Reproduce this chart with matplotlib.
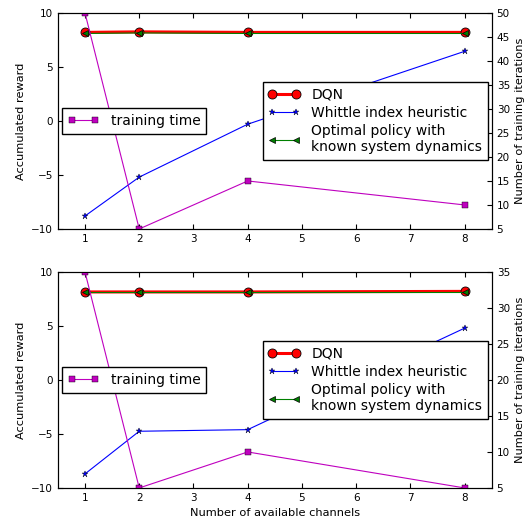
import matplotlib
matplotlib.use("Agg")
import matplotlib.pyplot as plt

channels = [1, 2, 4, 8]

# top panel
dqn_top = [8.2, 8.25, 8.2, 8.2]
whittle_top = [-8.8, -5.2, -0.3, 6.45]
optimal_top = [8.1, 8.15, 8.1, 8.1]
train_top = [50, 5, 15, 10]

# bottom panel
dqn_bot = [8.15, 8.15, 8.15, 8.2]
whittle_bot = [-8.7, -4.75, -4.6, 4.8]
optimal_bot = [8.1, 8.1, 8.1, 8.1]
train_bot = [35, 5, 10, 5]

plt.rcParams['xtick.direction'] = 'in'
plt.rcParams['ytick.direction'] = 'in'
plt.rcParams['xtick.top'] = True
plt.rcParams['xtick.labelsize'] = 7.5
plt.rcParams['ytick.labelsize'] = 7.5

fig = plt.figure(figsize=(5.26, 5.18), dpi=100)
ax_top = fig.add_axes([0.110, 0.558, 0.825, 0.417])
ax_bot = fig.add_axes([0.110, 0.058, 0.825, 0.417])


def panel(ax, dqn, whittle, optimal, train, rlim):
    l1, = ax.plot(channels, dqn, 'r-o', lw=2.2, ms=6.5, mec='k', mew=0.6,
                  label='DQN')
    l2, = ax.plot(channels, whittle, 'b-*', lw=0.8, ms=4.5, mec='k', mew=0.3,
                  label='Whittle index heuristic')
    l3, = ax.plot(channels, optimal, 'g-<', lw=0.8, ms=5, mec='k', mew=0.5,
                  label='Optimal policy with\nknown system dynamics')
    ax.set_xlim(0.5, 8.5)
    ax.set_ylim(-10, 10)
    ax.set_xticks(range(1, 9))
    ax.set_yticks([-10, -5, 0, 5, 10])
    ax.set_ylabel('Accumulated reward', fontsize=8.2)
    ax2 = ax.twinx()
    l4, = ax2.plot(channels, train, 'm-s', lw=0.8, ms=4.5, mec='k', mew=0.3,
                   label='training time')
    ax2.set_ylim(*rlim)
    ax2.set_ylabel('Number of training iterations', fontsize=8.2)
    ax2.tick_params(direction='in')
    lg1 = ax2.legend(handles=[l1, l2, l3], loc='center right', numpoints=2,
                     fancybox=False, borderaxespad=0.3, framealpha=1,
                     edgecolor='k', fontsize=10, handlelength=2.3,
                     labelspacing=0.3)
    ax2.add_artist(lg1)
    ax2.legend(handles=[l4], loc='center left', numpoints=2, fancybox=False,
               borderaxespad=0.3, framealpha=1, edgecolor='k', fontsize=10,
               handlelength=2.3)
    return ax2


panel(ax_top, dqn_top, whittle_top, optimal_top, train_top, (5, 50))
panel(ax_bot, dqn_bot, whittle_bot, optimal_bot, train_bot, (5, 35))
ax_bot.set_xlabel('Number of available channels', fontsize=8.2)

fig.savefig('out.png', dpi=100)
